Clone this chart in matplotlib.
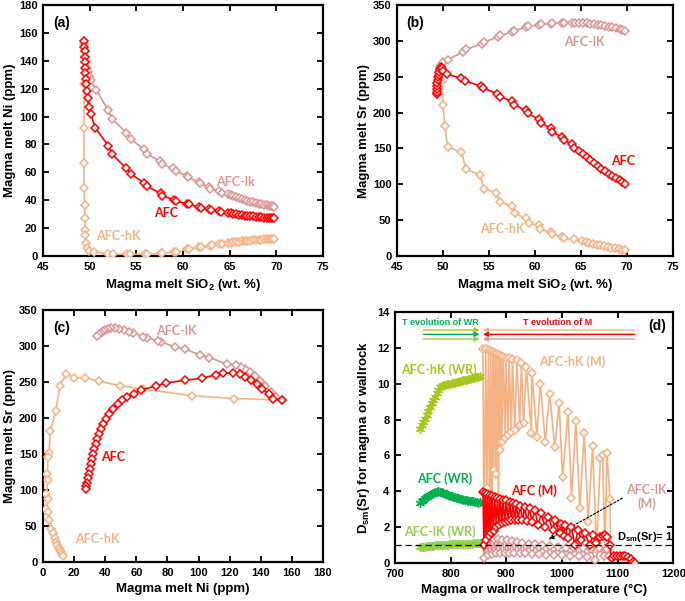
import matplotlib
matplotlib.use('Agg')
import matplotlib.pyplot as plt

# ---------------- data ----------------
# (a) SiO2 vs Ni
a_afc_sio2 = [49.4, 49.4, 49.45, 49.45, 49.5, 49.5, 49.55, 49.6, 49.65, 49.7,
              49.8, 49.9, 50.1, 50.6, 52.0, 52.4, 53.9, 54.4, 55.8, 56.1,
              57.6, 57.8, 59.0, 59.2, 60.4, 60.6, 61.7, 61.9, 62.8, 63.0,
              63.9, 64.1, 64.8, 65.1, 65.4, 65.7, 66.0, 66.3, 66.6, 66.9,
              67.2, 67.5, 67.8, 68.1, 68.4, 68.7, 69.0, 69.2, 69.4, 69.6, 69.8]
a_afc_ni = [154, 150, 147, 143, 139, 135, 131, 127, 123, 118,
            113, 107, 102, 92, 79, 73, 63, 59, 52.5, 50,
            45, 43, 40.5, 39.5, 37.5, 37, 35.2, 34.3, 33.6, 32.8,
            32.2, 31.5, 31, 30.5, 30.2, 29.9, 29.6, 29.3, 29.0, 28.8,
            28.6, 28.4, 28.2, 28.0, 27.8, 27.6, 27.5, 27.4, 27.3, 27.1, 27.0]
a_lk_sio2 = [49.4, 49.45, 49.5, 49.6, 49.7, 49.8, 49.9, 50.1, 50.7, 52.0,
             52.4, 53.9, 54.4, 55.8, 56.1, 57.5, 57.8, 58.9, 59.2, 60.4,
             60.5, 61.7, 61.8, 62.8, 62.9, 63.9, 64.2, 64.8, 65.1, 65.4,
             65.7, 66.0, 66.3, 66.6, 66.9, 67.2, 67.5, 67.8, 68.1, 68.4,
             68.7, 69.0, 69.2, 69.4, 69.6, 69.8]
a_lk_ni = [152, 147, 143, 139, 135, 132, 129, 126, 119, 104.5,
           98.5, 88.5, 84, 76.5, 73.5, 68, 66, 62.8, 61, 57.5,
           56.3, 53.2, 52, 49.6, 48.4, 46.5, 45.5, 44.3, 43.5, 42.7,
           42.0, 41.3, 40.6, 40.0, 39.4, 38.9, 38.4, 37.9, 37.5, 37.1,
           36.7, 36.3, 36.0, 35.7, 35.5, 35.3]
a_hk_sio2 = [49.4, 49.4, 49.4, 49.4, 49.4, 49.45, 49.5, 49.5, 49.55, 49.6,
             49.7, 49.95, 50.5, 52.0, 52.5, 54.0, 54.3, 55.9, 56.1, 57.6,
             57.8, 59.0, 59.2, 60.4, 60.6, 61.7, 61.9, 62.9, 63.1, 63.9,
             64.2, 64.8, 65.1, 65.4, 65.7, 66.0, 66.3, 66.6, 66.9, 67.2,
             67.5, 67.8, 68.1, 68.4, 68.7, 69.0, 69.2, 69.4, 69.6, 69.8]
a_hk_ni = [154, 123.5, 91.5, 67, 49, 36.5, 27, 19, 15, 9.5,
           5.5, 3.8, 3.1, 1.4, 1.2, 1.2, 1.1, 1.4, 1.3, 1.9,
           1.8, 2.9, 3.0, 4.8, 5.0, 6.2, 6.5, 7.4, 7.7, 8.4,
           8.7, 9.2, 9.5, 9.8, 10.0, 10.3, 10.5, 10.7, 10.9, 11.1,
           11.3, 11.5, 11.7, 11.8, 12.0, 12.1, 12.2, 12.3, 12.4, 12.5]

# (b) SiO2 vs Sr
b_afc_sio2 = [49.4, 49.35, 49.35, 49.4, 49.4, 49.45, 49.5, 49.55, 49.6, 49.7,
              49.8, 49.9, 50.0, 50.4, 52.0, 52.4, 54.1, 54.4, 55.9, 56.2,
              57.5, 57.7, 59.0, 59.2, 60.4, 60.6, 61.7, 61.9, 62.9, 63.1,
              64.0, 64.2, 64.8, 65.2, 65.6, 66.0, 66.4, 66.8, 67.2, 67.6,
              68.0, 68.4, 68.8, 69.2, 69.5, 69.8]
b_afc_sr = [226, 229, 233, 237, 241, 245, 249, 253, 257, 261,
            264, 262, 258, 253.5, 248, 244, 237, 234, 226.5, 222,
            216, 211, 203, 199, 191, 186, 178, 173, 166, 162,
            156, 151, 146, 142, 138, 134, 130, 126, 122, 119,
            115, 112, 109, 106, 103, 100.5]
b_lk_sio2 = [49.4, 49.45, 49.5, 49.55, 49.6, 49.7, 49.8, 50.0, 50.5, 52.2,
             52.5, 54.2, 54.5, 56.0, 56.2, 57.5, 57.7, 59.0, 59.2, 60.4,
             60.6, 61.7, 61.9, 62.9, 63.1, 64.0, 64.3, 64.8, 65.2, 65.6,
             66.0, 66.4, 66.8, 67.2, 67.6, 68.0, 68.4, 68.8, 69.2, 69.5, 69.8]
b_lk_sr = [226, 232, 240, 248, 255, 262, 266, 270, 274, 284.5,
           288, 296, 298.5, 305.5, 307.5, 312, 314, 319, 320.5, 321.7,
           323, 324, 324.5, 325.3, 325.5, 325.5, 325.5, 325, 324.8, 324.3,
           323.7, 323, 322.3, 321.5, 320.6, 319.7, 318.7, 317.6, 316.5, 315.3, 314]
b_hk_sio2 = [49.4, 49.45, 49.5, 49.55, 49.6, 49.7, 49.9, 50.0, 50.2, 50.5,
             52.0, 52.5, 54.0, 54.5, 55.8, 56.2, 57.5, 57.8, 59.0, 59.3,
             60.4, 60.5, 61.7, 61.8, 62.9, 63.1, 64.2, 65.1, 65.5, 65.9,
             66.3, 66.7, 67.1, 67.5, 67.9, 68.3, 68.7, 69.1, 69.5, 69.8]
b_hk_sr = [226, 232, 240, 248, 255, 260, 243, 210, 181, 152,
           145, 121, 113, 94, 88, 75, 70, 59.5, 52.5, 45.5,
           42.7, 37, 33.4, 30, 27, 24.6, 23.2, 20.9, 19.5, 18.2,
           17, 15.8, 14.7, 13.6, 12.6, 11.6, 10.7, 9.8, 9.0, 8.4]

# (c) Ni vs Sr
c_afc_ni = [153.5, 148, 145, 141, 137.5, 134, 130, 126.5, 122, 116,
            111, 102, 91.5, 79, 72.5, 63, 58.5, 54, 51, 48,
            45, 42.5, 40.5, 38.8, 37.4, 36.2, 35.0, 34.0, 33.0, 32.1,
            31.3, 30.6, 29.9, 29.3, 28.7, 28.2, 27.8, 27.5]
c_afc_sr = [225, 227, 233, 240, 247, 253, 257.5, 260.5, 262.5, 262,
            260, 255, 252.5, 248.5, 244.5, 239, 234, 228.5, 224.5, 219,
            213, 206, 199, 192, 185, 178, 171, 164, 157, 150,
            143, 136, 129, 122, 116, 110, 105, 101]
c_lk_ni = [153.5, 150, 146.5, 143, 139.5, 136, 133, 130, 127.5, 124,
           118, 107, 101, 91, 85, 76, 74, 67, 64.5, 58,
           55, 52, 49, 46.5, 44, 42, 40, 38.5, 37, 36, 35]
c_lk_sr = [225, 229, 236, 244, 252, 259, 264, 268, 270.5, 273.5,
           275, 284, 287.5, 296, 298.5, 305.5, 307, 311.5, 312.5, 318.5,
           320, 322, 323.5, 324.5, 324.5, 324, 322.5, 320.5, 318.5, 316, 313.5]
c_hk_ni = [153.5, 123, 96, 64.5, 49.5, 36, 27, 20, 15, 10.8,
           8.2, 4.7, 3.9, 3.2, 2.8, 3.2, 2.2, 3.2, 2.2, 3.2,
           3.9, 5.4, 6.5, 7.5, 8.5, 9.3, 10, 10.8, 11.5, 12.3, 12.9]
c_hk_sr = [225, 227, 231, 240, 245, 251, 256, 256, 261, 244,
           210, 182, 152, 146, 122.5, 114, 95, 88, 74, 69,
           59, 46, 40, 33, 28, 24, 20, 17, 14, 11.5, 9]

# (d) Dsm(Sr) vs temperature, magma (M)
d_hk_t = [858, 860, 863, 865, 868, 870, 872, 874, 876, 877,
          880, 881, 883, 886, 887, 889, 890, 892, 894, 898,
          899, 903, 905, 909, 911, 915, 919, 924, 927, 931,
          936, 945, 946, 955, 961, 970, 978, 987, 995, 1001,
          1011, 1017, 1025, 1032, 1040, 1047, 1055, 1062, 1069, 1073,
          1077, 1081, 1086, 1088]
d_hk_d = [11.95, 1.0, 11.9, 4.17, 11.85, 1.5, 11.8, 2.0, 11.75, 5.19,
          11.7, 4.97, 11.65, 3.0, 11.6, 6.3, 11.55, 6.77, 11.5, 6.96,
          11.45, 7.14, 11.4, 7.3, 11.35, 7.42, 11.3, 7.7, 11.15, 7.79,
          10.9, 7.23, 10.6, 7.05, 10.0, 6.77, 9.4, 6.49, 8.9, 4.8,
          8.44, 3.65, 7.9, 3.1, 7.23, 2.3, 6.5, 0.8, 5.84, 6.0,
          0.8, 6.15, 3.6, 0.6]
d_afc_t = [858, 860, 862, 864, 866, 868, 870, 872, 874, 877,
           879, 882, 884, 887, 889, 892, 894, 897, 900, 903,
           906, 909, 912, 915, 918, 921, 925, 929, 933, 937,
           942, 946, 951, 957, 963, 969, 975, 984, 987, 996,
           999, 1003, 1005, 1011, 1017, 1023, 1029, 1035, 1041, 1050,
           1056, 1062, 1068, 1073, 1077, 1081, 1086, 1089, 1094, 1099,
           1104, 1109, 1114, 1119, 1124, 1128, 1131]
d_afc_d = [3.98, 1.0, 3.9, 1.3, 3.85, 1.5, 3.8, 1.67, 3.75, 1.8,
           3.7, 2.04, 3.65, 2.15, 3.6, 2.23, 3.55, 2.3, 3.5, 2.35,
           3.42, 2.4, 3.35, 2.42, 3.28, 2.42, 3.2, 2.4, 3.12, 2.36,
           3.05, 2.32, 2.97, 2.13, 2.78, 2.04, 2.6, 1.85, 2.41, 1.67,
           2.2, 1.5, 2.13, 1.39, 2.04, 1.02, 1.85, 1.3, 1.67, 1.02,
           1.58, 1.11, 1.48, 1.52, 1.58, 1.48, 1.02, 0.3, 0.4, 0.4,
           0.4, 0.4, 0.38, 0.35, 0.25, 0.1, 0.0]
d_lk_t = [858, 860, 864, 867, 871, 874, 878, 881, 885, 889,
          893, 897, 901, 905, 910, 914, 919, 924, 929, 934,
          940, 946, 952, 958, 965, 971, 978, 985, 992, 1000,
          1007, 1015, 1022, 1030, 1037, 1045, 1052, 1060, 1067, 1075,
          1080, 1084]
d_lk_d = [1.1, 0.3, 1.3, 0.45, 1.35, 0.5, 1.35, 0.55, 1.33, 0.55,
          1.3, 0.55, 1.27, 0.55, 1.23, 0.55, 1.2, 0.55, 1.15, 0.55,
          1.1, 0.5, 1.05, 0.5, 1.0, 0.45, 0.95, 0.45, 0.9, 0.45,
          0.85, 0.4, 0.85, 0.4, 0.85, 0.35, 0.8, 0.2, 0.85, 0.4,
          0.8, 0.4]

# (d) wallrock (WR)
wr_t = [745, 748, 751, 754, 757, 760, 763, 766, 769, 772,
        775, 778, 781, 784, 787, 790, 793, 796, 799, 802,
        805, 808, 811, 814, 817, 820, 823, 826, 829, 832,
        835, 838, 841, 844, 847, 850, 853]
wr_hk_d = [7.5, 7.7, 7.88, 8.05, 8.25, 8.5, 8.72, 8.9, 9.09, 9.28,
           9.46, 9.65, 9.83, 9.88, 9.9, 9.92, 9.95, 9.97, 10.0, 10.02,
           10.04, 10.06, 10.08, 10.1, 10.12, 10.15, 10.18, 10.2, 10.22, 10.25,
           10.27, 10.3, 10.32, 10.34, 10.36, 10.38, 10.4]
wr_afc_d = [3.35, 3.45, 3.55, 3.62, 3.7, 3.76, 3.82, 3.88, 3.92, 3.96,
            3.99, 4.0, 3.98, 3.95, 3.92, 3.88, 3.84, 3.8, 3.76, 3.73,
            3.7, 3.67, 3.64, 3.61, 3.58, 3.56, 3.54, 3.52, 3.5, 3.48,
            3.47, 3.46, 3.44, 3.42, 3.4, 3.38, 3.42]
wr_lk_d = [0.88, 0.9, 0.92, 0.93, 0.95, 0.96, 0.97, 0.98, 0.99, 1.0,
           1.0, 1.01, 1.02, 1.02, 1.03, 1.03, 1.04, 1.04, 1.05, 1.05,
           1.06, 1.06, 1.07, 1.07, 1.08, 1.08, 1.08, 1.09, 1.09, 1.1,
           1.1, 1.1, 1.11, 1.11, 1.12, 1.12, 1.12]

# ---------------- style ----------------
plt.rcParams['font.family'] = 'Liberation Sans'
plt.rcParams['font.weight'] = 'bold'
plt.rcParams['axes.labelweight'] = 'bold'
plt.rcParams['mathtext.fontset'] = 'custom'
plt.rcParams['mathtext.rm'] = 'Liberation Sans:bold'
plt.rcParams['mathtext.it'] = 'Liberation Sans:bold'
plt.rcParams['mathtext.bf'] = 'Liberation Sans:bold'
plt.rcParams['mathtext.default'] = 'rm'
plt.rcParams['axes.linewidth'] = 1.6
plt.rcParams['xtick.direction'] = 'in'
plt.rcParams['ytick.direction'] = 'in'
plt.rcParams['xtick.top'] = True
plt.rcParams['ytick.right'] = True
plt.rcParams['xtick.major.size'] = 4
plt.rcParams['ytick.major.size'] = 4
plt.rcParams['xtick.major.width'] = 1.3
plt.rcParams['ytick.major.width'] = 1.3
plt.rcParams['xtick.major.pad'] = 4
plt.rcParams['ytick.major.pad'] = 4
plt.rcParams['xtick.labelsize'] = 8
plt.rcParams['ytick.labelsize'] = 8
plt.rcParams['axes.labelsize'] = 9.5

RED = '#FF0000'
PINK = '#D99694'
ORANGE = '#F4B183'
WR_HK = '#A6C81E'
WR_AFC = '#00B050'
WR_LK = '#92D050'
LABEL_FONT = dict(family='Lato', weight='bold', fontsize=9)


def series(ax, x, y, color, z):
    ax.plot(x, y, color=color, lw=1.2, marker='D', ms=4.4, mfc='white',
            mec=color, mew=1.1, zorder=z)


def wallrock(ax, x, y, color):
    ax.plot(x, y, color=color, lw=1.0, marker=(6, 2, 0), ms=6.5, mew=1.0,
            zorder=3)


fig = plt.figure(figsize=(6.85, 6.01), dpi=100)
W, H = 685.0, 601.0
ax_a = fig.add_axes([43 / W, 1 - 256 / H, 280 / W, 251 / H])
ax_b = fig.add_axes([397 / W, 1 - 256 / H, 276 / W, 251 / H])
ax_c = fig.add_axes([43 / W, 1 - 562 / H, 280 / W, 252 / H])
ax_d = fig.add_axes([395 / W, 1 - 563.3 / H, 278.3 / W, 251.6 / H])

# ---- (a)
series(ax_a, a_lk_sio2, a_lk_ni, PINK, 2)
series(ax_a, a_hk_sio2, a_hk_ni, ORANGE, 3)
series(ax_a, a_afc_sio2, a_afc_ni, RED, 4)
ax_a.set_xlim(45, 75)
ax_a.set_ylim(0, 180)
ax_a.set_xticks(range(45, 76, 5))
ax_a.set_yticks(range(0, 181, 20))
ax_a.set_xlabel('Magma melt SiO$_2$ (wt. %)')
ax_a.set_ylabel('Magma melt Ni (ppm)', labelpad=2)
ax_a.text(0.035, 0.955, '(a)', transform=ax_a.transAxes, fontsize=10, va='top')
ax_a.text(65.6, 53, 'AFC-lk', color=PINK, ha='center', va='center', **LABEL_FONT)
ax_a.text(58.2, 31, 'AFC', color=RED, ha='center', va='center', **LABEL_FONT)
ax_a.text(53.1, 14, 'AFC-hK', color=ORANGE, ha='center', va='center', **LABEL_FONT)

# ---- (b)
series(ax_b, b_lk_sio2, b_lk_sr, PINK, 2)
series(ax_b, b_hk_sio2, b_hk_sr, ORANGE, 3)
series(ax_b, b_afc_sio2, b_afc_sr, RED, 4)
ax_b.set_xlim(45, 75)
ax_b.set_ylim(0, 350)
ax_b.set_xticks(range(45, 76, 5))
ax_b.set_yticks(range(0, 351, 50))
ax_b.set_xlabel('Magma melt SiO$_2$ (wt. %)')
ax_b.set_ylabel('Magma melt Sr (ppm)', labelpad=2)
ax_b.text(0.035, 0.955, '(b)', transform=ax_b.transAxes, fontsize=10, va='top')
ax_b.text(65.4, 298.5, 'AFC-lK', color=PINK, ha='center', va='center', **LABEL_FONT)
ax_b.text(69.6, 132, 'AFC', color=RED, ha='center', va='center', **LABEL_FONT)
ax_b.text(56.5, 37, 'AFC-hK', color=ORANGE, ha='center', va='center', **LABEL_FONT)

# ---- (c)
series(ax_c, c_lk_ni, c_lk_sr, PINK, 2)
series(ax_c, c_hk_ni, c_hk_sr, ORANGE, 3)
series(ax_c, c_afc_ni, c_afc_sr, RED, 4)
ax_c.set_xlim(0, 180)
ax_c.set_ylim(0, 350)
ax_c.set_xticks(range(0, 181, 20))
ax_c.set_yticks(range(0, 351, 50))
ax_c.set_xlabel('Magma melt Ni (ppm)')
ax_c.set_ylabel('Magma melt Sr (ppm)', labelpad=2)
ax_c.text(0.035, 0.955, '(c)', transform=ax_c.transAxes, fontsize=10, va='top')
ax_c.text(86, 321, 'AFC-lK', color=PINK, ha='center', va='center', **LABEL_FONT)
ax_c.text(45, 146.5, 'AFC', color=RED, ha='center', va='center', **LABEL_FONT)
ax_c.text(34.6, 32, 'AFC-hK', color=ORANGE, ha='center', va='center', **LABEL_FONT)

# ---- (d)
series(ax_d, d_hk_t, d_hk_d, ORANGE, 2)
series(ax_d, d_lk_t, d_lk_d, PINK, 3)
series(ax_d, d_afc_t, d_afc_d, RED, 4)
wallrock(ax_d, wr_t, wr_hk_d, WR_HK)
wallrock(ax_d, wr_t, wr_afc_d, WR_AFC)
wallrock(ax_d, wr_t, wr_lk_d, WR_LK)
ax_d.axhline(1, color='black', lw=0.9, ls=(0, (5, 3)), zorder=5)
ax_d.set_xlim(700, 1200)
ax_d.set_ylim(0, 14)
ax_d.set_xticks(range(700, 1201, 100))
ax_d.set_yticks(range(0, 15, 2))
ax_d.set_xlabel('Magma or wallrock temperature (°C)')
ax_d.set_ylabel('D$_{sm}$(Sr) for magma or wallrock', labelpad=4)
ax_d.text(1171, 13.22, '(d)', fontsize=10, ha='center', va='center')

# temperature-evolution arrows
for yy, cc in zip([12.98, 12.74, 12.48], [WR_HK, WR_AFC, WR_LK]):
    ax_d.annotate('', xy=(852, yy), xytext=(751, yy),
                  arrowprops=dict(arrowstyle='-|>', color=cc, lw=1.0,
                                  mutation_scale=7, shrinkA=0, shrinkB=0))
for yy, cc in zip([12.98, 12.74, 12.48], [ORANGE, RED, PINK]):
    ax_d.annotate('', xy=(858, yy), xytext=(1131, yy),
                  arrowprops=dict(arrowstyle='-|>', color=cc, lw=1.0,
                                  mutation_scale=7, shrinkA=0, shrinkB=0))
ax_d.text(782, 13.42, 'T evolution of WR', color=WR_AFC, fontsize=6.5,
          ha='center', va='center')
ax_d.text(992, 13.42, 'T evolution of M', color=RED, fontsize=6.5,
          ha='center', va='center')

ax_d.text(1019, 11.22, 'AFC-hK (M)', color=ORANGE, ha='center', va='center', **LABEL_FONT)
ax_d.text(950, 4.04, 'AFC (M)', color=RED, ha='center', va='center', **LABEL_FONT)
ax_d.text(1152, 3.7, 'AFC-lK\n(M)', color=PINK, ha='center', va='center',
          linespacing=1.1, **LABEL_FONT)
ax_d.text(779, 10.76, 'AFC-hK (WR)', color=WR_HK, ha='center', va='center', **LABEL_FONT)
ax_d.text(790, 4.73, 'AFC (WR)', color=WR_AFC, ha='center', va='center', **LABEL_FONT)
ax_d.text(780, 1.76, 'AFC-lK (WR)', color=WR_LK, ha='center', va='center', **LABEL_FONT)
ax_d.text(1098, 1.45, 'D$_{sm}$(Sr)= 1', fontsize=8, ha='left', va='center')
ax_d.annotate('', xy=(972, 1.26), xytext=(1113, 3.7),
              arrowprops=dict(arrowstyle='-|>', color='black', lw=0.8,
                              ls=(0, (2, 1.5)), mutation_scale=7))

fig.savefig('out.png', dpi=100)
